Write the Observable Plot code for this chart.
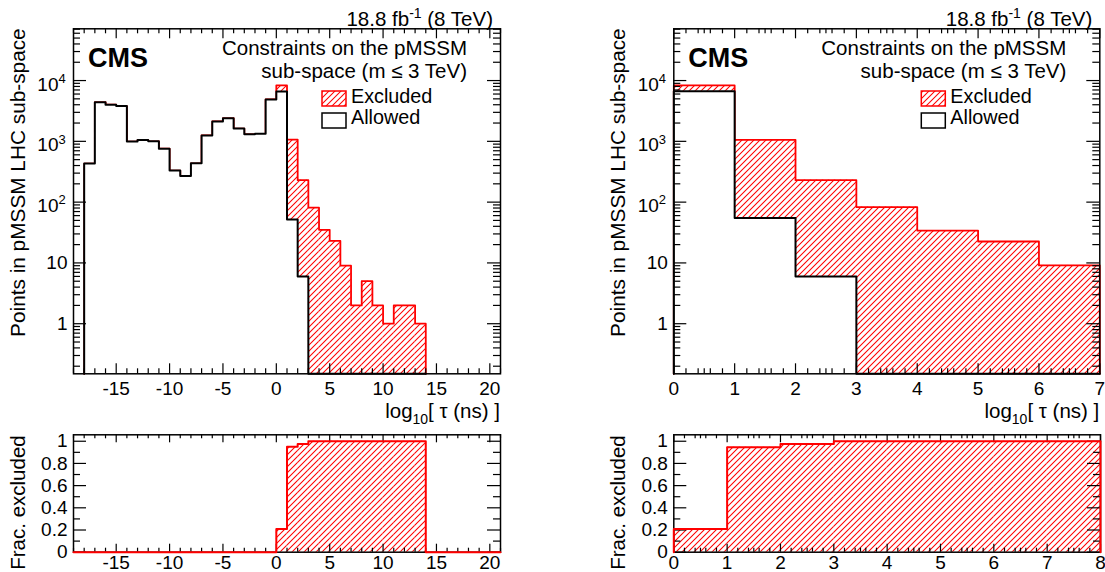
<!DOCTYPE html>
<html><head><meta charset="utf-8">
<script src="https://cdn.jsdelivr.net/npm/d3@7"></script>
<script src="https://cdn.jsdelivr.net/npm/@observablehq/plot@0.6"></script>
<style>
body{margin:0;background:#fff}
#wrap{position:relative;width:1105px;height:572px;overflow:hidden;background:#fff}
#wrap svg{position:absolute;overflow:visible}
</style>
</head><body><div id="wrap"></div>
<script>
// ---------------- data ----------------
// left: log10(tau/ns) bins of width 1, lower edges
const leftBinLow  = [-18,-17,-16,-15,-14,-13,-12,-11,-10,-9,-8,-7,-6,-5,-4,-3,-2,-1,0,1,2,3,4,5,6,7,8,9,10,11,12,13];
const leftAllowed = [430,4400,4000,3800,990,1050,1000,755,330,270,435,1250,2130,2400,1620,1310,1330,4900,6600,52,6,0,0,0,0,0,0,0,0,0,0,0];
const leftTotal   = [430,4400,4000,3800,990,1050,1000,755,330,270,435,1250,2130,2400,1620,1310,1330,4900,8300,1070,230,81,35,23,9,2,5,2,1,2,2,1];
const leftFracLow = [-19,-18,-17,-16,-15,-14,-13,-12,-11,-10,-9,-8,-7,-6,-5,-4,-3,-2,-1,0,1,2,3,4,5,6,7,8,9,10,11,12,13,14,15,16,17,18,19,20];
const leftFrac    = [0,0,0,0,0,0,0,0,0,0,0,0,0,0,0,0,0,0,0,0.21,0.95,0.975,1,1,1,1,1,1,1,1,1,1,1,0,0,0,0,0,0,0];
// right: zoom 0..7
const rightBinLow  = [0,1,2,3,4,5,6];
const rightAllowed = [6650,55,6,0,0,0,0];
const rightTotal   = [8300,1060,230,83,34,22.5,9.1];
const rightFracLow = [0,1,2,3,4,5,6,7];
const rightFrac    = [0.21,0.946,0.976,1,1,1,1,1];
// tick labels
const leftXLabels  = [-15,-10,-5,0,5,10,15,20];
const rightXLabels = [0,1,2,3,4,5,6,7];
const rightFracXLabels = [0,1,2,3,4,5,6,7,8];
const yLogPlain = [{v:1,t:"1"},{v:10,t:"10"}];
const yLogExp   = [{v:100,e:"2"},{v:1000,e:"3"},{v:10000,e:"4"}];
const fracYLabels = [0,0.2,0.4,0.6,0.8,1];

// ---------------- helpers ----------------
const FONT = '"Liberation Sans", Arial, Helvetica, sans-serif';
const YMIN = 0.15, YMAX = 71000;
const wrap = document.getElementById("wrap");
function bins(lows, vals){ return lows.map((lo,i)=>({lo, hi: lo+1, v: vals[i]})); }
function outline(b, floor){
  const pts=[{x:b[0].lo, y:floor}];
  for(const d of b){ const y = d.v>floor ? d.v : floor; pts.push({x:d.lo,y},{x:d.hi,y}); }
  pts.push({x:b[b.length-1].hi, y:floor});
  return pts;
}
function addHatch(svg,id){
  d3.select(svg).insert("defs",":first-child").html(
   `<pattern id="${id}" patternUnits="userSpaceOnUse" width="6" height="6"><path d="M-1,1 l2,-2 M0,6 l6,-6 M5,7 l2,-2" stroke="#ff0000" stroke-width="1.05" fill="none"/></pattern>`);
}
function place(svg,left,top){ svg.style.left=left+"px"; svg.style.top=top+"px"; wrap.appendChild(svg); }
function tickMarks(majX,minX,majY,minY,innerW,innerH,lx,sx,ly,sy){
  const o={stroke:"black",strokeWidth:1.2};
  return [
    Plot.tickX(majX,{x:d=>d,insetTop:innerH-lx,...o}),
    Plot.tickX(majX,{x:d=>d,insetBottom:innerH-lx,...o}),
    Plot.tickX(minX,{x:d=>d,insetTop:innerH-sx,...o}),
    Plot.tickX(minX,{x:d=>d,insetBottom:innerH-sx,...o}),
    Plot.tickY(majY,{y:d=>d,insetRight:innerW-ly,...o}),
    Plot.tickY(majY,{y:d=>d,insetLeft:innerW-ly,...o}),
    Plot.tickY(minY,{y:d=>d,insetRight:innerW-sy,...o}),
    Plot.tickY(minY,{y:d=>d,insetLeft:innerW-sy,...o})
  ];
}
const logMajor=[1,10,100,1000,10000];
const logMinor=[];
[0.1,1,10,100,1000,10000].forEach(p=>{for(let k=2;k<=9;k++){const v=k*p; if(v>YMIN&&v<YMAX) logMinor.push(v);}});
function txt(g,x,y,size,anchor,parts,weight){
  const t=g.append("text").attr("x",x).attr("y",y).attr("font-size",size).attr("text-anchor",anchor)
    .attr("font-family",FONT).attr("fill","black");
  if(weight) t.attr("font-weight",weight);
  parts.forEach(p=>{ const s=t.append("tspan").text(p.t); if(p.dy) s.attr("dy",p.dy); if(p.size) s.attr("font-size",p.size); });
  return t;
}

function topPanel(c){
  const W=c.width,H=430,mT=28.3,mB=430-373.3;
  const innerW=W-c.mL-c.mR, innerH=H-mT-mB;
  const bA=bins(c.lows,c.allowed), bT=bins(c.lows,c.total);
  const hatch=`url(#${c.id})`;
  const svg=Plot.plot({
    width:W,height:H,marginLeft:c.mL,marginRight:c.mR,marginTop:mT,marginBottom:mB,
    style:{fontFamily:FONT,fontSize:"19px",color:"black",background:"transparent",overflow:"visible"},
    x:{domain:c.xDomain,label:null},
    y:{type:"log",domain:[YMIN,YMAX],axis:null,label:null},
    marks:[
      Plot.rectY(bT.filter(d=>d.v>0),{x1:"lo",x2:"hi",y1:()=>YMIN,y2:"v",fill:hatch,inset:0}),
      Plot.line(outline(bT,YMIN),{x:"x",y:"y",stroke:"#ff0000",strokeWidth:1.8}),
      Plot.areaY(outline(bA,YMIN),{x:"x",y1:()=>YMIN,y2:"y",fill:"white"}),
      Plot.line(outline(bA,YMIN),{x:"x",y:"y",stroke:"black",strokeWidth:2}),
      ...tickMarks(c.xMajor,c.xMinor,logMajor,logMinor,innerW,innerH,10,5,13,7),
      Plot.frame({stroke:"black",strokeWidth:1.5}),
      Plot.axisX(c.xLabels,{tickSize:0,tickPadding:8,tickFormat:d=>String(d),fontSize:19,label:null}),
      Plot.text(yLogPlain,{y:"v",text:"t",frameAnchor:"left",textAnchor:"end",dx:-6,fontSize:19}),
      Plot.text(yLogExp,{y:"v",text:()=>"10",frameAnchor:"left",textAnchor:"end",dx:-15,dy:4,fontSize:19}),
      Plot.text(yLogExp,{y:"v",text:"e",frameAnchor:"left",textAnchor:"start",dx:-15,dy:-2,fontSize:13})
    ]
  });
  addHatch(svg,c.id);
  const L=c.mL,R=W-c.mR;
  const g=d3.select(svg).append("g");
  txt(g,R-7,26,20.5,"end",[{t:"18.8 fb"},{t:"-1",dy:-8,size:14},{t:" (8 TeV)",dy:8}]);
  txt(g,L+15,67,27,"start",[{t:"CMS"}],"bold");
  txt(g,R-33,55,20.5,"end",[{t:"Constraints on the pMSSM"}]);
  txt(g,R-33,77.7,20.5,"end",[{t:"sub-space (m ≤ 3 TeV)"}]);
  g.append("rect").attr("x",R-178).attr("y",91).attr("width",24).attr("height",15).attr("fill",hatch).attr("stroke","#ff0000").attr("stroke-width",1.5);
  txt(g,R-149,103.2,19.8,"start",[{t:"Excluded"}]);
  g.append("rect").attr("x",R-178).attr("y",113).attr("width",24).attr("height",15).attr("fill","white").attr("stroke","black").attr("stroke-width",1.5);
  txt(g,R-149,124,19.8,"start",[{t:"Allowed"}]);
  txt(g,R,418,20.5,"end",[{t:"log"},{t:"10",dy:6,size:14},{t:"[ τ (ns) ]",dy:-6}]);
  txt(g,0,0,20.8,"end",[{t:"Points in pMSSM LHC sub-space"}]).attr("transform",`translate(${L-48},${mT}) rotate(-90)`);
  place(svg,c.left,0);
}

function fracPanel(c){
  const W=c.width,H=142,mT=4.3,mB=142-121.7;
  const innerW=W-c.mL-c.mR, innerH=H-mT-mB;
  const b=bins(c.lows,c.frac);
  const hatch=`url(#${c.id})`;
  const svg=Plot.plot({
    width:W,height:H,marginLeft:c.mL,marginRight:c.mR,marginTop:mT,marginBottom:mB,
    style:{fontFamily:FONT,fontSize:"19px",color:"black",background:"transparent",overflow:"visible"},
    x:{domain:c.xDomain,label:null},
    y:{domain:[0,1.058],label:null},
    marks:[
      Plot.rectY(b.filter(d=>d.v>0),{x1:"lo",x2:"hi",y1:()=>0,y2:"v",fill:hatch,inset:0}),
      ...tickMarks(c.xMajor,c.xMinor,[0,0.2,0.4,0.6,0.8,1],[0.1,0.3,0.5,0.7,0.9],innerW,innerH,8,4,13,7),
      Plot.frame({stroke:"black",strokeWidth:1.5}),
      Plot.line(outline(b,0),{x:"x",y:"y",stroke:"#ff0000",strokeWidth:2}),
      Plot.axisX(c.xLabels,{tickSize:0,tickPadding:3,tickFormat:d=>String(d),fontSize:19,label:null}),
      Plot.axisY(fracYLabels,{tickSize:0,tickPadding:6,tickFormat:d=>String(d),fontSize:19,label:null})
    ]
  });
  addHatch(svg,c.id);
  const g=d3.select(svg).append("g");
  txt(g,0,0,20.5,"end",[{t:"Frac. excluded"}]).attr("transform",`translate(${c.mL-48},${mT+1}) rotate(-90)`);
  place(svg,c.left,430);
}

const leftMinor=d3.range(-19,22).filter(v=>v%5!==0);
const rightMinor=d3.range(0,7.01,0.2).map(v=>+v.toFixed(1)).filter(v=>Math.abs(v-Math.round(v))>1e-6).concat(d3.range(0.5,7,1));
const rightMinor8=d3.range(0,8.01,0.2).map(v=>+v.toFixed(1)).filter(v=>Math.abs(v-Math.round(v))>1e-6).concat(d3.range(0.5,8,1));

topPanel({id:"hatchTL",left:0,width:552,mL:73,mR:52,xDomain:[-19,21],lows:leftBinLow,allowed:leftAllowed,total:leftTotal,
  xMajor:leftXLabels,xMinor:leftMinor,xLabels:leftXLabels});
topPanel({id:"hatchTR",left:552,width:553,mL:121.3,mR:5.7,xDomain:[0,7],lows:rightBinLow,allowed:rightAllowed,total:rightTotal,
  xMajor:rightXLabels,xMinor:rightMinor,xLabels:rightXLabels});
fracPanel({id:"hatchBL",left:0,width:552,mL:73,mR:52,xDomain:[-19,21],lows:leftFracLow,frac:leftFrac,
  xMajor:leftXLabels,xMinor:leftMinor,xLabels:leftXLabels});
fracPanel({id:"hatchBR",left:552,width:553,mL:121.3,mR:5,xDomain:[0,8],lows:rightFracLow,frac:rightFrac,
  xMajor:rightFracXLabels,xMinor:rightMinor8,xLabels:rightFracXLabels});
</script></body></html>
